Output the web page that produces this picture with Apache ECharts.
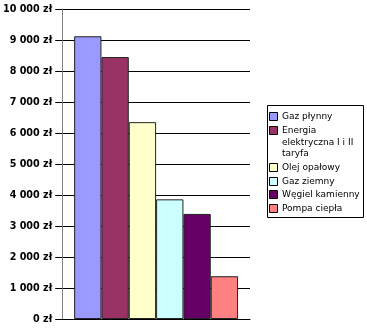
<!DOCTYPE html>
<html>
<head>
<meta charset="utf-8">
<script src="https://cdn.jsdelivr.net/npm/echarts@6/dist/echarts.min.js"></script>
<style>
  html, body { margin: 0; padding: 0; background: #fff; }
  #chart { width: 367px; height: 328px; }
</style>
</head>
<body>
<div id="chart"></div>
<script>
// Annual heating cost by fuel type
const seriesNames = ['Gaz płynny', 'Energia elektryczna I i II taryfa', 'Olej opałowy', 'Gaz ziemny', 'Węgiel kamienny', 'Pompa ciepła'];
const legendLines = [['Gaz płynny'], ['Energia', 'elektryczna I i II', 'taryfa'], ['Olej opałowy'], ['Gaz ziemny'], ['Węgiel kamienny'], ['Pompa ciepła']];
const costs = [9120, 8450, 6350, 3860, 3390, 1380];
const colors = ['#9999FF', '#993366', '#FFFFCC', '#CCFFFF', '#660066', '#FF8080'];
const categories = [''];

function formatZl(v) {
  return String(v).replace(/\B(?=(\d{3})+(?!\d))/g, ' ') + ' zł';
}

// Legend built as graphic elements so the swatch sits on the first text line
const LEG = { x: 267, y: 105, w: 96, h: 112, padTop: 6, line: 11.7, gap: 2, sw: 9, swX: 269, txtX: 282 };
const legendEls = [{
  type: 'rect',
  shape: { x: LEG.x + 0.5, y: LEG.y + 0.5, width: LEG.w, height: LEG.h },
  style: { fill: '#fff', stroke: '#000', lineWidth: 1 }
}];
let cy = LEG.y + LEG.padTop;
legendLines.forEach((lines, i) => {
  legendEls.push({
    type: 'rect',
    shape: { x: LEG.swX + 0.5, y: Math.round(cy + 1) + 0.5, width: LEG.sw - 1, height: 8 },
    style: { fill: colors[i], stroke: '#000', lineWidth: 1 }
  });
  legendEls.push({
    type: 'text',
    x: LEG.txtX,
    y: cy,
    style: {
      text: lines.join('\n'),
      fill: '#000',
      font: '9px "DejaVu Sans", sans-serif',
      lineHeight: LEG.line,
      textVerticalAlign: 'top'
    }
  });
  cy += lines.length * LEG.line + LEG.gap;
});

const chart = echarts.init(document.getElementById('chart'), null, { renderer: 'canvas' });

chart.setOption({
  animation: false,
  backgroundColor: '#fff',
  grid: { left: 61, right: 117, top: 9, bottom: 9, containLabel: false },
  xAxis: {
    type: 'category',
    data: categories,
    axisLine: { lineStyle: { color: '#000', width: 1 } },
    axisTick: { show: false },
    axisLabel: { show: false }
  },
  yAxis: {
    type: 'value',
    min: 0,
    max: 10000,
    interval: 1000,
    axisLine: { show: true, lineStyle: { color: '#808080', width: 1 } },
    axisTick: { show: true, length: 7, lineStyle: { color: '#000' } },
    splitLine: { lineStyle: { color: '#000', width: 1 } },
    axisLabel: {
      formatter: formatZl,
      color: '#000',
      fontFamily: 'DejaVu Sans, sans-serif',
      fontWeight: 'bold',
      fontSize: 9.6,
      margin: 10
    }
  },
  legend: { show: false, data: seriesNames },
  graphic: legendEls,
  series: seriesNames.map((name, i) => ({
    name: name,
    type: 'bar',
    data: [costs[i]],
    barGap: '0%',
    barCategoryGap: '12.7%',
    itemStyle: { color: colors[i], borderColor: '#222', borderWidth: 1 }
  }))
});
</script>
</body>
</html>
